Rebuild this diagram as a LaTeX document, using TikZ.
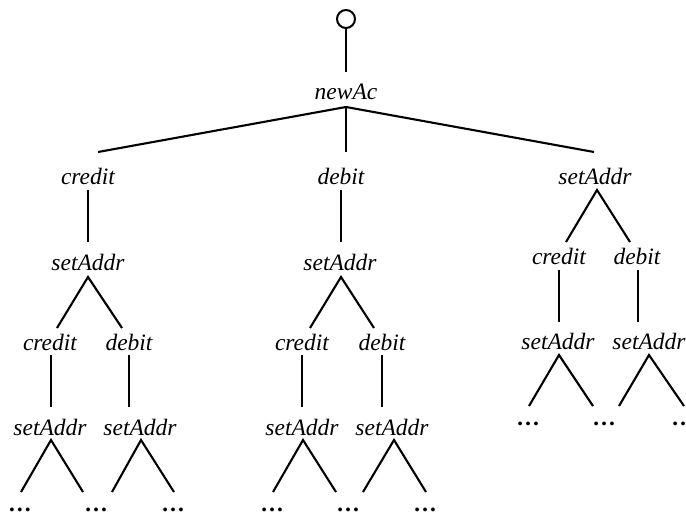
\documentclass[tikz,border=0pt]{standalone}
\usepackage{fontspec}
\setmainfont{Liberation Serif}
\usetikzlibrary{calc}
\begin{document}
\begin{tikzpicture}[x=1pt,y=-1pt,
  lab/.style={font=\fontsize{23.5}{28}\selectfont\itshape, anchor=base, inner sep=0pt},
  edge/.style={line width=2.1pt},
  dots/.style={font=\fontsize{23.5}{28}\selectfont\bfseries, anchor=base, inner sep=0pt}]
\useasboundingbox (0,0) rectangle (686,516);
\clip (0,0) rectangle (686,516);
% root
\node[circle, draw, line width=2pt, minimum size=18pt, inner sep=0pt] (root) at (346,19) {};
\node[lab] (newAc) at (346,100) {newAc};
\coordinate (newAcTop) at (346,72);
\coordinate (newAcApex) at (346,107);
\draw[edge] (root.south) -- (newAcTop);
% level 2
\node[lab] (c1) at (88,185) {credit};
\node[lab] (d1) at (341,185) {debit};
\node[lab] (s1) at (595,185) {setAddr};
\coordinate (c1top) at (98,152);
\coordinate (d1top) at (346,152);
\coordinate (s1top) at (594,152);
\draw[edge] (c1top) -- (newAcApex) -- (s1top);
\draw[edge] (newAcApex) -- (d1top);
% left column
\node[lab] (sL) at (88,270) {setAddr};
\draw[edge] (88,190) coordinate (c1b) -- (88,242) coordinate (sLtop);
\coordinate (sLapex) at (88,277);
\node[lab] (cL) at (50,350) {credit};
\node[lab] (dL) at (129,350) {debit};
\draw[edge] (57,328) coordinate (cLtop) -- (sLapex) -- (122,328) coordinate (dLtop);
\node[lab] (sLL) at (50,435) {setAddr};
\node[lab] (sLR) at (140,435) {setAddr};
\draw[edge] (51,355) coordinate (cLb) -- (51,407) coordinate (sLLtop);
\draw[edge] (129,355) coordinate (dLb) -- (129,407) coordinate (sLRtop);
\draw[edge] (21,492) coordinate (e1) -- (51,440) coordinate (sLLapex) -- (83,492) coordinate (e2);
\draw[edge] (112,492) coordinate (e3) -- (141,440) coordinate (sLRapex) -- (174,492) coordinate (e4);
\node[dots] (dt1) at (20,511) {…};
\node[dots] (dt2) at (96,511) {…};
\node[dots] (dt3) at (173,511) {…};
% middle column
\node[lab] (sM) at (340,270) {setAddr};
\draw[edge] (341,190) coordinate (d1b) -- (341,242) coordinate (sMtop);
\coordinate (sMapex) at (341,277);
\node[lab] (cM) at (302,350) {credit};
\node[lab] (dM) at (382,350) {debit};
\draw[edge] (310,328) coordinate (cMtop) -- (sMapex) -- (374,328) coordinate (dMtop);
\node[lab] (sML) at (302,435) {setAddr};
\node[lab] (sMR) at (392,435) {setAddr};
\draw[edge] (302,355) coordinate (cMb) -- (302,407) coordinate (sMLtop);
\draw[edge] (382,355) coordinate (dMb) -- (382,407) coordinate (sMRtop);
\draw[edge] (273,492) coordinate (e5) -- (303,440) coordinate (sMLapex) -- (336,492) coordinate (e6);
\draw[edge] (363,492) coordinate (e7) -- (394,440) coordinate (sMRapex) -- (426,492) coordinate (e8);
\node[dots] (dt4) at (272,511) {…};
\node[dots] (dt5) at (348,511) {…};
\node[dots] (dt6) at (425,511) {…};
% right column
\coordinate (s1apex) at (597,190);
\node[lab] (cR) at (559,264) {credit};
\node[lab] (dR) at (637,264) {debit};
\draw[edge] (566,242) coordinate (cRtop) -- (s1apex) -- (630,242) coordinate (dRtop);
\node[lab] (sRL) at (558,349) {setAddr};
\node[lab] (sRR) at (649,349) {setAddr};
\draw[edge] (559,270) coordinate (cRb) -- (559,322) coordinate (sRLtop);
\draw[edge] (638,270) coordinate (dRb) -- (638,322) coordinate (sRRtop);
\draw[edge] (529,406) coordinate (e9) -- (559,355) coordinate (sRLapex) -- (593,406) coordinate (e10);
\draw[edge] (619,406) coordinate (e11) -- (649,355) coordinate (sRRapex) -- (684,406) coordinate (e12);
\node[dots] (dt7) at (528,425) {…};
\node[dots] (dt8) at (604,425) {…};
\node[dots] (dt9) at (683,425) {…};
\end{tikzpicture}
\end{document}
